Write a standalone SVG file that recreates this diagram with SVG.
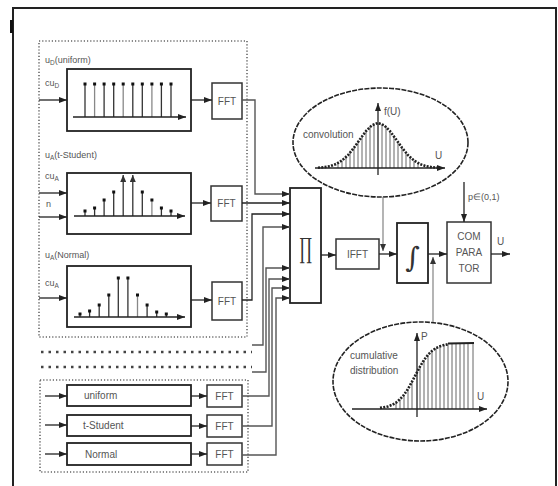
<svg xmlns="http://www.w3.org/2000/svg" width="558" height="486" viewBox="0 0 558 486">
<defs>
<style>
.box{fill:#fff;stroke:#222;stroke-width:1.8}
.fft{fill:#fff;stroke:#333;stroke-width:1.5}
.ln{fill:none;stroke:#222;stroke-width:1.3}
.gl{fill:none;stroke:#555;stroke-width:1.4}
.thin{fill:none;stroke:#777;stroke-width:1.1}
.dotb{fill:none;stroke:#666;stroke-width:1.6;stroke-dasharray:1.2 2}
.row{fill:none;stroke:#444;stroke-width:2.6;stroke-dasharray:2.5 5}
.sp{stroke:#333;stroke-width:1.3}
.spg{stroke:#888;stroke-width:1.3}
.hat{stroke:#555;stroke-width:0.9}
.cur{fill:none;stroke:#222;stroke-width:2.6;stroke-dasharray:2 1.3}
.t{font-family:"Liberation Sans",Arial,sans-serif;font-size:10px;fill:#555}
.ts{font-family:"Liberation Sans",Arial,sans-serif;font-size:9px;fill:#555}
.c{text-anchor:middle}
</style>
<marker id="ar" markerUnits="userSpaceOnUse" markerWidth="8" markerHeight="6" refX="8" refY="3" orient="auto"><path d="M0,0 L8,3 L0,6 z" fill="#222"/></marker>
<marker id="ag" markerUnits="userSpaceOnUse" markerWidth="7" markerHeight="6" refX="7" refY="3" orient="auto"><path d="M0,0 L7,3 L0,6 z" fill="#333"/></marker>
</defs>
<rect width="558" height="486" fill="#fff"/>

<g id="frame">
<path d="M13,492 L13,8 L556,8 L556,492" fill="none" stroke="#222" stroke-width="2"/>
<rect x="10" y="20" width="3" height="13" fill="#111"/>
</g>

<g id="group-top">
<rect class="dotb" x="39" y="41" width="208" height="296"/>
</g>

<g id="uniform-gen">
<text class="ts" x="45" y="63">u<tspan font-size="6.5" dy="2">D</tspan><tspan dy="-2">(uniform)</tspan></text>
<text class="ts" x="45" y="86">cu<tspan font-size="6.5" dy="2">D</tspan></text>
<rect class="box" x="67" y="69" width="124" height="62"/>
<g>
<line class="sp" x1="85" y1="84" x2="85" y2="117"/><line class="spg" x1="94.6" y1="84" x2="94.6" y2="117"/>
<line class="sp" x1="104.1" y1="84" x2="104.1" y2="117"/><line class="sp" x1="113.7" y1="84" x2="113.7" y2="117"/>
<line class="spg" x1="123.2" y1="84" x2="123.2" y2="117"/><line class="sp" x1="132.8" y1="84" x2="132.8" y2="117"/>
<line class="sp" x1="142.3" y1="84" x2="142.3" y2="117"/><line class="spg" x1="151.9" y1="84" x2="151.9" y2="117"/>
<line class="sp" x1="161.4" y1="84" x2="161.4" y2="117"/><line class="sp" x1="171" y1="84" x2="171" y2="117"/>
<g fill="#111"><rect x="83.5" y="82.5" width="3" height="3"/><rect x="93.1" y="82.5" width="3" height="3"/><rect x="102.6" y="82.5" width="3" height="3"/><rect x="112.2" y="82.5" width="3" height="3"/><rect x="121.7" y="82.5" width="3" height="3"/><rect x="131.3" y="82.5" width="3" height="3"/><rect x="140.8" y="82.5" width="3" height="3"/><rect x="150.4" y="82.5" width="3" height="3"/><rect x="159.9" y="82.5" width="3" height="3"/><rect x="169.5" y="82.5" width="3" height="3"/></g>
</g>
<line class="ln" x1="73" y1="117" x2="186" y2="117" marker-end="url(#ar)"/>
</g>

<g id="fft-1">
<rect class="fft" x="212" y="83" width="30" height="36"/>
<text class="t c" x="227" y="105">FFT</text>
</g>

<g id="tstudent-gen">
<text class="ts" x="45" y="158">u<tspan font-size="6.5" dy="2">A</tspan><tspan dy="-2">(t-Student)</tspan></text>
<text class="ts" x="45" y="179">cu<tspan font-size="6.5" dy="2">A</tspan></text>
<text class="ts" x="46" y="207">n</text>
<rect class="box" x="67" y="173" width="124" height="61"/>
<g>
<line class="sp" x1="85" y1="211" x2="85" y2="216"/><line class="sp" x1="94.6" y1="208" x2="94.6" y2="216"/>
<line class="sp" x1="104.1" y1="200" x2="104.1" y2="216"/><line class="sp" x1="113.7" y1="192" x2="113.7" y2="216"/>
<line class="sp" x1="142.3" y1="192" x2="142.3" y2="216"/><line class="spg" x1="151.9" y1="200" x2="151.9" y2="216"/>
<line class="sp" x1="161.4" y1="208" x2="161.4" y2="216"/><line class="sp" x1="171" y1="211" x2="171" y2="216"/>
<line class="sp" x1="123.2" y1="216" x2="123.2" y2="175" marker-end="url(#ag)"/>
<line class="sp" x1="132.8" y1="216" x2="132.8" y2="175" marker-end="url(#ag)"/>
<g fill="#111"><rect x="83.5" y="209.5" width="3" height="3"/><rect x="93.1" y="206.5" width="3" height="3"/><rect x="102.6" y="198.5" width="3" height="3"/><rect x="112.2" y="190.5" width="3" height="3"/><rect x="140.8" y="190.5" width="3" height="3"/><rect x="150.4" y="198.5" width="3" height="3"/><rect x="159.9" y="206.5" width="3" height="3"/><rect x="169.5" y="209.5" width="3" height="3"/></g>
</g>
<line class="ln" x1="74" y1="216" x2="185" y2="216" marker-end="url(#ar)"/>
</g>

<g id="fft-2">
<rect class="fft" x="211" y="186" width="31" height="35"/>
<text class="t c" x="226.5" y="207">FFT</text>
</g>

<g id="normal-gen">
<text class="ts" x="45" y="258">u<tspan font-size="6.5" dy="2">A</tspan><tspan dy="-2">(Normal)</tspan></text>
<text class="ts" x="45" y="286">cu<tspan font-size="6.5" dy="2">A</tspan></text>
<rect class="box" x="67" y="266" width="124" height="61"/>
<g>
<line class="sp" x1="80" y1="314" x2="80" y2="317"/><line class="sp" x1="89.6" y1="311" x2="89.6" y2="317"/>
<line class="sp" x1="99.2" y1="305" x2="99.2" y2="317"/><line class="sp" x1="108.8" y1="295" x2="108.8" y2="317"/>
<line class="sp" x1="118.3" y1="278" x2="118.3" y2="317"/><line class="sp" x1="127.9" y1="278" x2="127.9" y2="317"/>
<line class="spg" x1="137.5" y1="295" x2="137.5" y2="317"/><line class="sp" x1="147.1" y1="305" x2="147.1" y2="317"/>
<line class="sp" x1="156.7" y1="312" x2="156.7" y2="317"/><line class="sp" x1="166.3" y1="314" x2="166.3" y2="317"/>
<g fill="#111"><rect x="78.5" y="312.5" width="3" height="3"/><rect x="88.1" y="309.5" width="3" height="3"/><rect x="97.7" y="303.5" width="3" height="3"/><rect x="107.3" y="293.5" width="3" height="3"/><rect x="116.8" y="276.5" width="3" height="3"/><rect x="126.4" y="276.5" width="3" height="3"/><rect x="136" y="293.5" width="3" height="3"/><rect x="145.6" y="303.5" width="3" height="3"/><rect x="155.2" y="310.5" width="3" height="3"/><rect x="164.8" y="312.5" width="3" height="3"/></g>
</g>
<line class="ln" x1="74" y1="317" x2="185" y2="317" marker-end="url(#ar)"/>
</g>

<g id="fft-3">
<rect class="fft" x="212" y="282" width="30" height="38"/>
<text class="t c" x="227" y="305">FFT</text>
</g>

<g id="more-rows">
<line class="row" x1="41" y1="352" x2="252" y2="352"/>
<line class="row" x1="41" y1="367" x2="252" y2="367"/>
</g>

<g id="group-bottom">
<rect class="dotb" x="40" y="380" width="208" height="92"/>
</g>

<g id="uniform-2">
<rect class="box" x="67" y="385" width="124" height="21"/>
<text class="t" x="84" y="399">uniform</text>
</g>
<g id="fft-4">
<rect class="fft" x="207" y="385" width="35" height="22"/>
<text class="t c" x="224.5" y="400">FFT</text>
</g>
<g id="tstudent-2">
<rect class="box" x="67" y="415" width="124" height="21"/>
<text class="t" x="83" y="429">t-Student</text>
</g>
<g id="fft-5">
<rect class="fft" x="207" y="415" width="35" height="22"/>
<text class="t c" x="224.5" y="430">FFT</text>
</g>
<g id="normal-2">
<rect class="box" x="67" y="443" width="124" height="22"/>
<text class="t" x="85" y="458">Normal</text>
</g>
<g id="fft-6">
<rect class="fft" x="207" y="443" width="35" height="22"/>
<text class="t c" x="224.5" y="458">FFT</text>
</g>

<g id="product">
<rect class="box" x="290" y="188" width="31" height="115"/>
<text transform="translate(305.5,258) scale(0.55,1)" x="0" y="0" text-anchor="middle" font-family="DejaVu Serif,serif" font-size="28" fill="#333">∏</text>
</g>

<g id="ifft">
<rect class="fft" x="336" y="239" width="43" height="30"/>
<text class="t c" x="357.5" y="258">IFFT</text>
</g>

<g id="integral">
<rect class="box" x="397" y="223" width="31" height="60"/>
<text x="412.5" y="267" text-anchor="middle" font-family="DejaVu Serif,serif" font-size="28" fill="#333">∫</text>
</g>

<g id="comparator">
<rect class="fft" x="447" y="222" width="44" height="61" stroke="#555"/>
<text class="t c" x="469" y="240">COM</text>
<text class="t c" x="469" y="256">PARA</text>
<text class="t c" x="469" y="272">TOR</text>
</g>

<g id="convolution">
<ellipse cx="380.5" cy="142.5" rx="87.5" ry="54.5" fill="#fff" stroke="#222" stroke-width="1.6" stroke-dasharray="5 1.2"/>
<g class="hat">
<line x1="338" y1="168" x2="338" y2="163.1"/><line x1="342" y1="168" x2="342" y2="160.5"/><line x1="346" y1="168" x2="346" y2="157.1"/><line x1="350" y1="168" x2="350" y2="152.8"/><line x1="354" y1="168" x2="354" y2="147.7"/><line x1="358" y1="168" x2="358" y2="142.1"/><line x1="362" y1="168" x2="362" y2="136.4"/><line x1="366" y1="168" x2="366" y2="131.1"/><line x1="370" y1="168" x2="370" y2="126.8"/><line x1="374" y1="168" x2="374" y2="124"/>
<line x1="382" y1="168" x2="382" y2="124"/><line x1="386" y1="168" x2="386" y2="126.8"/><line x1="390" y1="168" x2="390" y2="131.1"/><line x1="394" y1="168" x2="394" y2="136.4"/><line x1="398" y1="168" x2="398" y2="142.1"/><line x1="402" y1="168" x2="402" y2="147.7"/><line x1="406" y1="168" x2="406" y2="152.8"/><line x1="410" y1="168" x2="410" y2="157.1"/><line x1="414" y1="168" x2="414" y2="160.5"/><line x1="418" y1="168" x2="418" y2="163.1"/>
</g>
<line class="ln" x1="315" y1="168" x2="445" y2="168" marker-end="url(#ar)"/>
<line class="ln" x1="378" y1="175" x2="378" y2="103" marker-end="url(#ar)"/>
<path class="cur" d="M318,167.7 L324,167.2 L330,166.2 L336,164.1 L342,160.5 L348,155.1 L354,147.7 L360,139.3 L366,131.1 L372,125.2 L378,123 L384,125.2 L390,131.1 L396,139.3 L402,147.7 L408,155.1 L414,160.5 L420,164.1 L426,166.2 L432,167.2 L438,167.7"/>
<text class="t" x="384" y="115">f(U)</text>
<text class="t" x="435" y="159">U</text>
<text class="t" x="303" y="138">convolution</text>
</g>

<g id="cumulative">
<ellipse cx="420.5" cy="381.5" rx="87.5" ry="59.5" fill="#fff" stroke="#222" stroke-width="1.6" stroke-dasharray="5 1.2"/>
<g class="hat">
<line x1="396" y1="409" x2="396" y2="402.6"/><line x1="400" y1="409" x2="400" y2="399.3"/><line x1="404" y1="409" x2="404" y2="394.8"/><line x1="408" y1="409" x2="408" y2="388.9"/><line x1="412" y1="409" x2="412" y2="381.7"/><line x1="420" y1="409" x2="420" y2="366.6"/><line x1="424" y1="409" x2="424" y2="360"/><line x1="428" y1="409" x2="428" y2="354.8"/><line x1="432" y1="409" x2="432" y2="350.9"/><line x1="436" y1="409" x2="436" y2="348.1"/><line x1="440" y1="409" x2="440" y2="346.3"/><line x1="444" y1="409" x2="444" y2="345.1"/><line x1="448" y1="409" x2="448" y2="344.3"/><line x1="452" y1="409" x2="452" y2="343.8"/><line x1="456" y1="409" x2="456" y2="343.3"/><line x1="460" y1="409" x2="460" y2="343"/><line x1="464" y1="409" x2="464" y2="343"/><line x1="468" y1="409" x2="468" y2="343"/><line x1="473" y1="409" x2="473" y2="343"/>
</g>
<line class="ln" x1="352" y1="409" x2="487" y2="409" marker-end="url(#ar)"/>
<line class="ln" x1="417" y1="417" x2="417" y2="333" marker-end="url(#ar)"/>
<path class="cur" d="M380,407.9 L384,407.3 L388,406.4 L392,404.9 L396,402.6 L400,399.3 L404,394.8 L408,388.9 L412,381.7 L416,374.1 L420,366.6 L424,360 L428,354.8 L432,350.9 L436,348.1 L440,346.3 L444,345.1 L448,344.3"/>
<line x1="448" y1="343.5" x2="474" y2="343" stroke="#222" stroke-width="2"/>
<text class="t" x="421" y="340">P</text>
<text class="t" x="477" y="400">U</text>
<text class="t" x="350" y="359">cumulative</text>
<text class="t" x="350" y="374">distribution</text>
</g>

<g id="labels">
<text class="ts" x="468" y="200">p∈(0,1)</text>
<text class="t" x="497" y="245">U</text>
</g>

<g id="connectors">
<line class="ln" x1="39" y1="100" x2="67" y2="100" marker-end="url(#ar)"/>
<line class="ln" x1="191" y1="100" x2="212" y2="100" marker-end="url(#ar)"/>
<polyline class="gl" points="242,100 255,100 255,194 290,194" marker-end="url(#ar)"/>
<line class="ln" x1="39" y1="193" x2="67" y2="193" marker-end="url(#ar)"/>
<line class="ln" x1="39" y1="217" x2="67" y2="217" marker-end="url(#ar)"/>
<line class="ln" x1="191" y1="203" x2="211" y2="203" marker-end="url(#ar)"/>
<line class="ln" x1="242" y1="203" x2="290" y2="203" marker-end="url(#ar)"/>
<line class="ln" x1="39" y1="298" x2="67" y2="298" marker-end="url(#ar)"/>
<line class="ln" x1="191" y1="300" x2="212" y2="300" marker-end="url(#ar)"/>
<polyline class="ln" points="242,300 252,300 252,214 290,214" marker-end="url(#ar)"/>
<polyline class="gl" points="252,345 263,345 263,227 290,227" marker-end="url(#ar)"/>
<polyline class="gl" points="252,372 266,372 266,268 290,268" marker-end="url(#ar)"/>
<line class="ln" x1="45" y1="396" x2="67" y2="396" marker-end="url(#ar)"/>
<line class="ln" x1="45" y1="425" x2="67" y2="425" marker-end="url(#ar)"/>
<line class="ln" x1="45" y1="454" x2="67" y2="454" marker-end="url(#ar)"/>
<line class="ln" x1="191" y1="396" x2="207" y2="396" marker-end="url(#ar)"/>
<line class="ln" x1="191" y1="426" x2="207" y2="426" marker-end="url(#ar)"/>
<line class="ln" x1="191" y1="454" x2="207" y2="454" marker-end="url(#ar)"/>
<polyline class="gl" points="242,396 269,396 269,279 290,279" marker-end="url(#ar)"/>
<polyline class="gl" points="242,426 272,426 272,288 290,288" marker-end="url(#ar)"/>
<polyline class="gl" points="242,455 276,455 276,298 290,298" marker-end="url(#ar)"/>
<line class="ln" x1="321" y1="255" x2="336" y2="255" marker-end="url(#ar)"/>
<line class="ln" x1="379" y1="254" x2="397" y2="254" marker-end="url(#ar)"/>
<line class="thin" x1="383" y1="197" x2="383" y2="251" marker-end="url(#ag)"/>
<line class="ln" x1="428" y1="254" x2="447" y2="254" marker-end="url(#ar)"/>
<line class="thin" x1="433" y1="322" x2="433" y2="257" marker-end="url(#ag)"/>
<line class="ln" x1="464" y1="182" x2="464" y2="222" marker-end="url(#ar)"/>
<line class="ln" x1="491" y1="254" x2="510" y2="254" marker-end="url(#ar)"/>
</g>
</svg>
